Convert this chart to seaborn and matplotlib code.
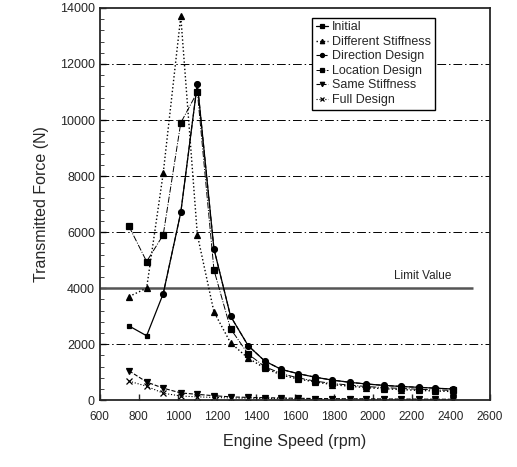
import numpy as np
import matplotlib
matplotlib.use('Agg')
import matplotlib.pyplot as plt
import seaborn as sns

# engine speeds (rpm)
speed = [750, 840, 925, 1015, 1100, 1185, 1270, 1360, 1445, 1530,
         1615, 1705, 1790, 1880, 1965, 2055, 2145, 2235, 2320, 2410]

initial = [2650, 2300, 3800, 6700, 11300, 5400, 3000, 1950, 1400, 1100,
           950, 820, 720, 640, 580, 530, 490, 460, 430, 400]
different_stiffness = [3700, 4000, 8100, 13700, 5900, 3150, 2050, 1500, 1150, 900,
                       760, 650, 560, 500, 450, 410, 380, 350, 330, 310]
direction_design = [np.nan, np.nan, 3800, 6700, 11300, 5400, 3000, 1950, 1400, 1100,
                    950, 820, 720, 640, 580, 530, 490, 460, 430, 400]
location_design = [6200, 4950, 5900, 9900, 11000, 4650, 2550, 1650, 1200, 950,
                   800, 680, 600, 540, 490, 450, 420, 390, 370, 350]
same_stiffness = [1050, 650, 430, 260, 210, 160, 120, 100, 90, 80,
                  70, 60, 55, 50, 50, 45, 40, 40, 35, 35]
full_design = [680, 500, 250, 150, 120, 100, 80, 70, 60, 55,
               50, 45, 40, 40, 35, 30, 30, 30, 25, 25]

limit_value = 4000
grid_levels = [2000, 6000, 8000, 10000, 12000]

sns.set_style('ticks')
plt.rcParams['font.family'] = ['Liberation Sans', 'DejaVu Sans']

fig = plt.figure(figsize=(5.17, 4.67), dpi=100)
ax = fig.add_axes([0.193, 0.143, 0.755, 0.840])

for g in grid_levels:
    ax.axhline(g, color='black', lw=0.7, dashes=(9, 3, 1.5, 3), zorder=1)
ax.hlines(limit_value, 600, 2510, color='#555555', lw=1.8, zorder=1)
ax.text(2400, limit_value + 230, 'Limit Value', ha='right', va='bottom', fontsize=8.5)

styles = [
    ('Initial', initial, '-', 's', 3.5, 0.9),
    ('Different Stiffness', different_stiffness, ':', '^', 4.5, 1.0),
    ('Direction Design', direction_design, (0, (4, 2)), 'o', 4.2, 0.8),
    ('Location Design', location_design, '-.', 's', 5, 0.7),
    ('Same Stiffness', same_stiffness, '--', 'v', 4.5, 0.8),
    ('Full Design', full_design, ':', 'x', 4.5, 0.8),
]
handles = []
for name, vals, ls, mk, ms, lw in styles:
    sns.lineplot(x=speed, y=vals, ax=ax, color='black', linestyle=ls, marker=mk,
                 markersize=ms, linewidth=lw, markeredgecolor='black',
                 markeredgewidth=0.9, sort=False)
    handles.append(ax.lines[-1])

ax.set_xlim(600, 2600)
ax.set_ylim(0, 14000)
ax.set_xticks(range(600, 2601, 200))
ax.set_yticks(range(0, 14001, 2000))
ax.set_yticks(range(0, 14001, 400), minor=True)
ax.tick_params(axis='both', direction='in', width=1.0, length=4)
ax.tick_params(axis='y', which='minor', direction='in', length=3)
ax.tick_params(axis='x', labelsize=8.5, pad=8)
ax.tick_params(axis='y', labelsize=9)
for s in ax.spines.values():
    s.set_linewidth(1.3)

ax.set_xlabel('Engine Speed (rpm)', fontsize=11.5, labelpad=8)
ax.set_ylabel('Transmitted Force (N)', fontsize=11.5, labelpad=8)

leg = ax.legend(handles, [s[0] for s in styles], loc='upper left',
                bbox_to_anchor=(0.544, 0.975), borderaxespad=0, fontsize=9,
                handlelength=1.0, handletextpad=0.3, labelspacing=0.2,
                borderpad=0.3, fancybox=False, framealpha=1, markerscale=0.7)
leg.get_frame().set_edgecolor('black')
leg.get_frame().set_linewidth(1.0)

fig.savefig('out.png', dpi=100)
